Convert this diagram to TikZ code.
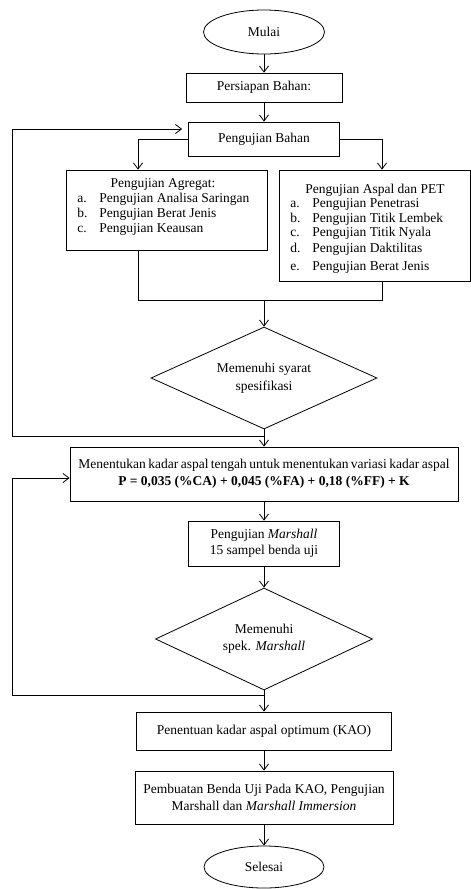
\documentclass[tikz,border=0pt]{standalone}
\usepackage{fontspec}
\setmainfont{Liberation Serif}
\usetikzlibrary{shapes.geometric,arrows.meta}
\begin{document}
\begin{tikzpicture}[x=1pt,y=-1pt,
  font=\fontsize{13.5}{16}\selectfont, line width=0.8pt,
  box/.style={draw, rectangle, inner sep=0pt, align=center},
  oval/.style={draw, ellipse, inner sep=0pt},
  decision/.style={draw, diamond, aspect=2.2, inner sep=0pt, align=center},
  arr/.style={-{Straight Barb[length=6pt,width=9pt]}},
  item/.style={anchor=base west, inner sep=0pt}]
\useasboundingbox (0,0) rectangle (471,889);

\node[oval, minimum width=121pt, minimum height=44pt] (mulai) at (264,32) {Mulai};
\node[box, minimum width=156pt, minimum height=29pt] (persiapan) at (264,87.5) {Persiapan Bahan:};
\node[box, minimum width=151pt, minimum height=34pt] (bahan) at (264,139) {Pengujian Bahan};

\node[box, minimum width=201pt, minimum height=80pt] (agr) at (166.5,210) {};
\node[anchor=base, inner sep=0pt] (agrT) at (163,187) {Pengujian Agregat:};
\node[item] (agrA1) at (77,202) {a.};  \node[item] (agrA2) at (99,202) {Pengujian Analisa Saringan};
\node[item] (agrB1) at (77,217) {b.};  \node[item] (agrB2) at (99,217) {Pengujian Berat Jenis};
\node[item] (agrC1) at (77,232) {c.};  \node[item] (agrC2) at (99,232) {Pengujian Keausan};

\node[box, minimum width=191pt, minimum height=111pt] (asp) at (374.5,225.5) {};
\node[anchor=base, inner sep=0pt] (aspT) at (375,193) {Pengujian Aspal dan PET};
\node[item] (aspA1) at (290,207) {a.};  \node[item] (aspA2) at (312,207) {Pengujian Penetrasi};
\node[item] (aspB1) at (290,222) {b.};  \node[item] (aspB2) at (312,222) {Pengujian Titik Lembek};
\node[item] (aspC1) at (290,236) {c.};  \node[item] (aspC2) at (312,236) {Pengujian Titik Nyala};
\node[item] (aspD1) at (290,252) {d.};  \node[item] (aspD2) at (312,252) {Pengujian Daktilitas};
\node[item] (aspE1) at (290,270) {e.};  \node[item] (aspE2) at (312,270) {Pengujian Berat Jenis};

\node[decision, minimum width=226pt, minimum height=102pt] (d1) at (264,378) {Memenuhi syarat\\[2pt]spesifikasi};

\node[box, minimum width=388pt, minimum height=54pt] (tentu) at (264,474) {{\spaceskip=0.18em plus 0.05em\relax Menentukan kadar aspal tengah untuk menentukan variasi kadar aspal}\\[1pt]\textbf{P = 0,035 (\%CA) + 0,045 (\%FA) + 0,18 (\%FF) + K}};

\node[box, minimum width=151pt, minimum height=45pt] (mar) at (264,543.5) {Pengujian \textit{Marshall}\\15 sampel benda uji};

\node[decision, minimum width=217pt, minimum height=102pt] (d2) at (264,639) {Memenuhi\\[1pt]spek. \textit{Marshall}};

\node[box, minimum width=255pt, minimum height=38pt] (kao) at (264,731) {Penentuan kadar aspal optimum (KAO)};
\node[box, minimum width=258pt, minimum height=53pt] (buat) at (264,797.5) {Pembuatan Benda Uji Pada KAO, Pengujian\\[1pt]Marshall dan \textit{Marshall Immersion}};
\node[oval, minimum width=120pt, minimum height=42pt] (selesai) at (264,867) {Selesai};

% main spine
\draw[arr] (mulai) -- (persiapan);
\draw[arr] (persiapan) -- (bahan);

% branches
\coordinate (bl) at (138,139);
\coordinate (br) at (382,139);
\draw[arr] (bahan.west) -- (bl) -- (bl |- agr.north);
\draw[arr] (bahan.east) -- (br) -- (br |- asp.north);

% merge
\coordinate (ml) at (138,300);
\coordinate (mr) at (382,300);
\coordinate (mm) at (264,300);
\draw (bl |- agr.south) -- (ml) -- (mr) -- (br |- asp.south);
\draw[arr] (mm) -- (d1.north);
\draw[arr] (d1.south) -- (tentu.north);

% loop 1
\coordinate (j1) at (264,436);
\coordinate (lb1) at (12,436);
\coordinate (lt1) at (12,129);
\draw[arr, shorten >=6pt] (j1) -- (lb1) -- (lt1) -- (bahan.west |- lt1);

\draw[arr] (tentu) -- (mar);
\draw[arr] (mar) -- (d2);
\draw[arr] (d2) -- (kao);
\draw[arr] (kao) -- (buat);
\draw[arr] (buat) -- (selesai);

% loop 2
\coordinate (j2) at (264,695);
\coordinate (lb2) at (12,695);
\coordinate (lt2) at (12,478);
\draw[arr] (j2) -- (lb2) -- (lt2) -- (tentu.west |- lt2);
\end{tikzpicture}
\end{document}
